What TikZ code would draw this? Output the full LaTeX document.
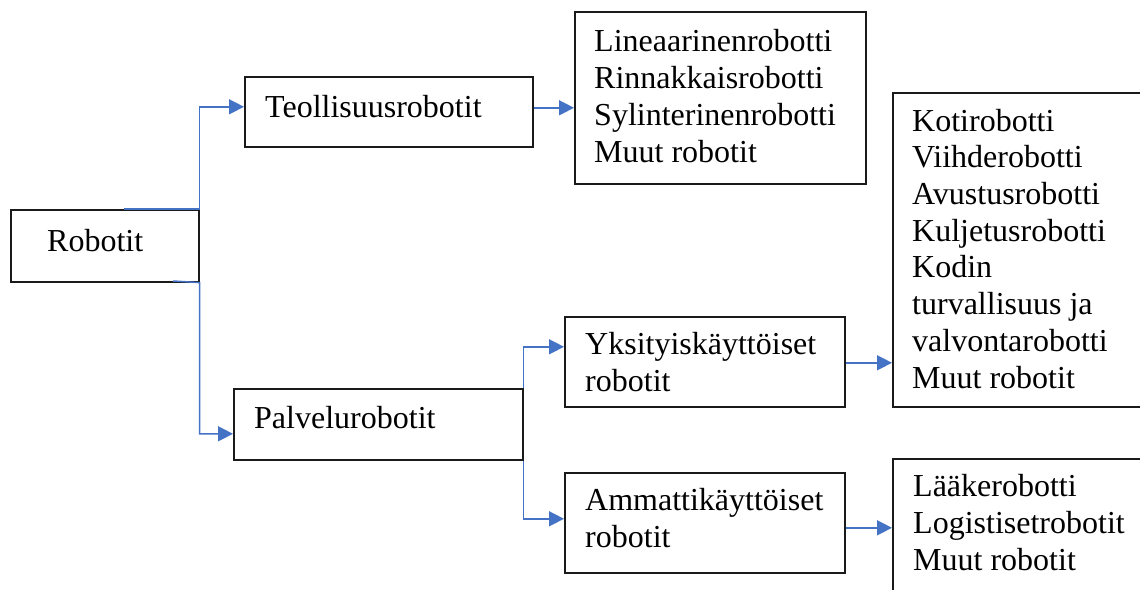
\documentclass[tikz,border=0pt]{standalone}
\usepackage{fontspec}
\setmainfont{Liberation Serif}
\newfontfamily\tnr{Liberation Serif}
\usetikzlibrary{arrows.meta,backgrounds}
\definecolor{conblue}{HTML}{4472C4}
\definecolor{boxline}{HTML}{1A1A1A}
\begin{document}
\begin{tikzpicture}[x=1pt,y=-1pt,
  box/.style={draw=boxline,line width=1.6pt,inner sep=0pt,anchor=north west},
  txt/.style={inner sep=0pt,anchor=base west,align=left,font=\tnr\fontsize{32pt}{36.7pt}\selectfont},
  conn/.style={draw=conblue,line width=1.5pt,-{Triangle[length=15pt,width=15pt]}}]
\clip (0,0) rectangle (1140,589);
\useasboundingbox (0,0) rectangle (1140,589);
% boxes
\node[box,minimum width=188pt,minimum height=72pt] (robotit) at (10,209) {};
\node[box,minimum width=288pt,minimum height=70pt] (teoll) at (244,76) {};
\node[box,minimum width=291pt,minimum height=172pt] (lin) at (574,11) {};
\node[box,minimum width=289pt,minimum height=71pt] (palv) at (233,388) {};
\node[box,minimum width=280pt,minimum height=90pt] (yks) at (564,316) {};
\node[box,minimum width=280pt,minimum height=100pt] (amm) at (564,472) {};
\node[box,minimum width=258pt,minimum height=314pt] (koti) at (892,92) {};
\node[box,minimum width=258pt,minimum height=142pt] (laake) at (892,458) {};
% texts (base anchor = baseline of the last line)
\node[txt] (robotit-t) at (47,251) {Robotit};
\node[txt] (teoll-t) at (265,117) {Teollisuusrobotit};
\node[txt] (lin-t) at (594,162) {Lineaarinenrobotti\\Rinnakkaisrobotti\\Sylinterinenrobotti\\Muut robotit};
\node[txt] (palv-t) at (254,428) {Palvelurobotit};
\node[txt] (yks-t) at (585,391) {Yksityiskäyttöiset\\robotit};
\node[txt] (amm-t) at (585,547) {Ammattikäyttöiset\\robotit};
\node[txt] (koti-t) at (912,388) {Kotirobotti\\Viihderobotti\\Avustusrobotti\\Kuljetusrobotti\\Kodin\\turvallisuus ja\\valvontarobotti\\Muut robotit};
\node[txt] (laake-t) at (913,570) {Lääkerobotti\\Logistisetrobotit\\Muut robotit};
% connectors
\coordinate (r1) at (124,209);
\coordinate (r2) at (173,281);
\draw[conn] (r1) -- (robotit.north east) |- ([yshift=5pt]teoll.west);
\draw[conn] (r2) -- (robotit.south east) |- ([yshift=-9.5pt]palv.west);
\coordinate (a3) at ([yshift=4pt]teoll.east);
\draw[conn] (a3) -- (a3 -| lin.west);
\begin{scope}[on background layer]
\draw[conn] ([yshift=12.5pt]palv.east) |- ([yshift=15pt]yks.west);
\draw[conn] ([yshift=-13.5pt]palv.east) |- ([yshift=4pt]amm.west);
\end{scope}
\coordinate (a6) at ([yshift=-1pt]yks.east);
\draw[conn] (a6) -- (a6 -| koti.west);
\coordinate (a7) at ([yshift=-5pt]amm.east);
\draw[conn] (a7) -- (a7 -| laake.west);
\end{tikzpicture}
\end{document}
